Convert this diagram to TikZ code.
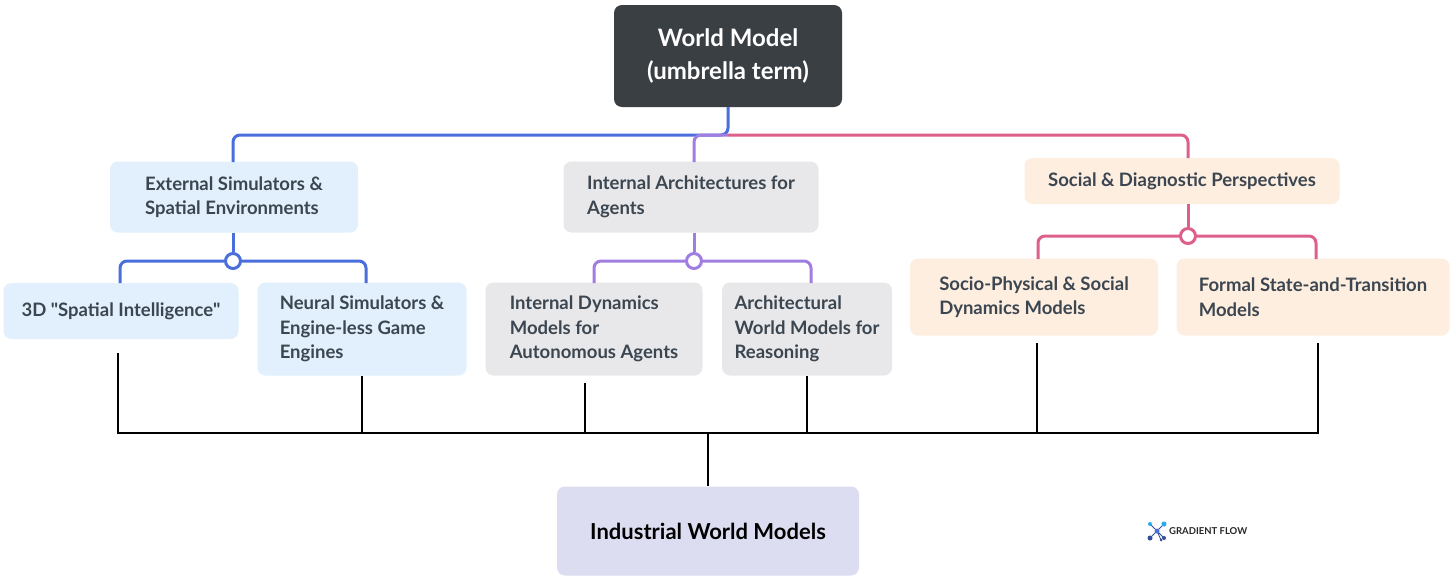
\documentclass[tikz,border=0pt]{standalone}
\usepackage{fontspec}
\setmainfont{Lato}
\begin{document}
\begin{tikzpicture}[x=1pt,y=-1pt,
  box/.style={rounded corners=8pt,draw=none,align=left,inner sep=0pt,font=\fontsize{18.5}{24.5}\selectfont\bfseries,text=txt},
  lb/.style={line width=3pt,rounded corners=7pt},
  bl/.style={line width=1.3pt,black},
  ring/.style={circle,draw,line width=3pt,fill=white,minimum size=15pt,inner sep=0pt}]
\definecolor{txt}{HTML}{3C4650}
\definecolor{dark}{HTML}{3A3F44}
\definecolor{lblue}{HTML}{E1F0FC}
\definecolor{lgray}{HTML}{E8E8EA}
\definecolor{lorange}{HTML}{FDEEE0}
\definecolor{lav}{HTML}{DDDDF1}
\definecolor{cb}{HTML}{4A6FDC}
\definecolor{cp}{HTML}{A07DE0}
\definecolor{ck}{HTML}{DC5F8C}
\useasboundingbox (0,0) rectangle (1456,581);
\fill[white] (0,0) rectangle (1456,581);
% boxes
\node[box,fill=dark,text=white,align=center,minimum width=228,minimum height=102,font=\fontsize{24}{33}\selectfont\bfseries] (wm) at (728,56) {World Model\\(umbrella term)};
\node[box,fill=lblue,minimum width=248,minimum height=71] (es) at (234,197) {External Simulators \&\\Spatial Environments};
\node[box,fill=lgray,minimum width=255,minimum height=71] (ia) at (691,197) {Internal Architectures for\\Agents};
\node[box,fill=lorange,minimum width=315,minimum height=46] (sd) at (1182,181) {Social \& Diagnostic Perspectives};
\node[box,fill=lblue,minimum width=235,minimum height=56] (sp3) at (121,311) {3D \textquotedbl Spatial Intelligence\textquotedbl};
\node[box,fill=lblue,minimum width=209,minimum height=93] (ns) at (362,329) {Neural Simulators \&\\Engine-less Game\\Engines};
\node[box,fill=lgray,minimum width=217,minimum height=93] (id) at (594,329) {Internal Dynamics\\Models for\\Autonomous Agents};
\node[box,fill=lgray,minimum width=170,minimum height=93] (aw) at (807,329) {Architectural\\World Models for\\Reasoning};
\node[box,fill=lorange,minimum width=248,minimum height=77] (so) at (1034,297) {Socio-Physical \& Social\\Dynamics Models};
\node[box,fill=lorange,minimum width=273,minimum height=77] (fs) at (1313,297) {Formal State-and-Transition\\Models};
\node[box,fill=lav,text=black,align=center,minimum width=302,minimum height=89,font=\fontsize{22}{26}\selectfont\bfseries] (iw) at (708,531) {Industrial World Models};
% top connectors
\coordinate (j) at (728,135);
\draw[lb,cb] (wm.south) -- (j) -- (233,135) -- (233,162);
\draw[lb,cp] (j) -- (694,135) -- (694,162);
\draw[lb,ck] (j) -- (1188,135) -- (1188,158);
% sub connectors
\node[ring,draw=cb] (r1) at (233,261) {};
\draw[lb,cb] (r1.north |- es.south) -- (r1.north);
\draw[lb,cb] (r1.west) -- (120,261) -- (120,283);
\draw[lb,cb] (r1.east) -- (366,261) -- (366,283);
\node[ring,draw=cp] (r2) at (694,261) {};
\draw[lb,cp] (r2.north |- ia.south) -- (r2.north);
\draw[lb,cp] (r2.west) -- (594,261) -- (594,283);
\draw[lb,cp] (r2.east) -- (811,261) -- (811,283);
\node[ring,draw=ck] (r3) at (1188,236) {};
\draw[lb,ck] (r3.north |- sd.south) -- (r3.north);
\draw[lb,ck] (r3.west) -- (1038,236) -- (1038,259);
\draw[lb,ck] (r3.east) -- (1316,236) -- (1316,259);
% black connectors
\coordinate (h) at (708,433);
\draw[bl] (118,353) -- (118,433) -- (1318,433) -- (1318,343);
\draw[bl] (ns.south) -- (362,433);
\draw[bl] (585,383) -- (585,433);
\draw[bl] (aw.south) -- (807,433);
\draw[bl] (1037,343) -- (1037,433);
\draw[bl] (h) -- (iw.north);
% logo
\begin{scope}[shift={(1157,531)}]
\draw[cb!70!black,line width=0.8pt] (-7,-7)--(7,7) (7,-7)--(-7,7) (0,0)--(4,9);
\fill[cb!60!cyan] (-7,-7) circle (2); \fill[cb!60!cyan] (7,-7) circle (2.5);
\fill[cb!70!black] (-7,7) circle (2.5); \fill[cb!70!black] (7,7) circle (2);
\fill[cb] (0,0) circle (2.5); \fill[cb!70!black] (4,9) circle (1.5);
\end{scope}
\node[anchor=west,font=\fontsize{9.5}{10}\selectfont\bfseries,text=black!85,inner sep=0pt] (gf) at (1169,531) {GRADIENT FLOW};
\end{tikzpicture}
\end{document}
